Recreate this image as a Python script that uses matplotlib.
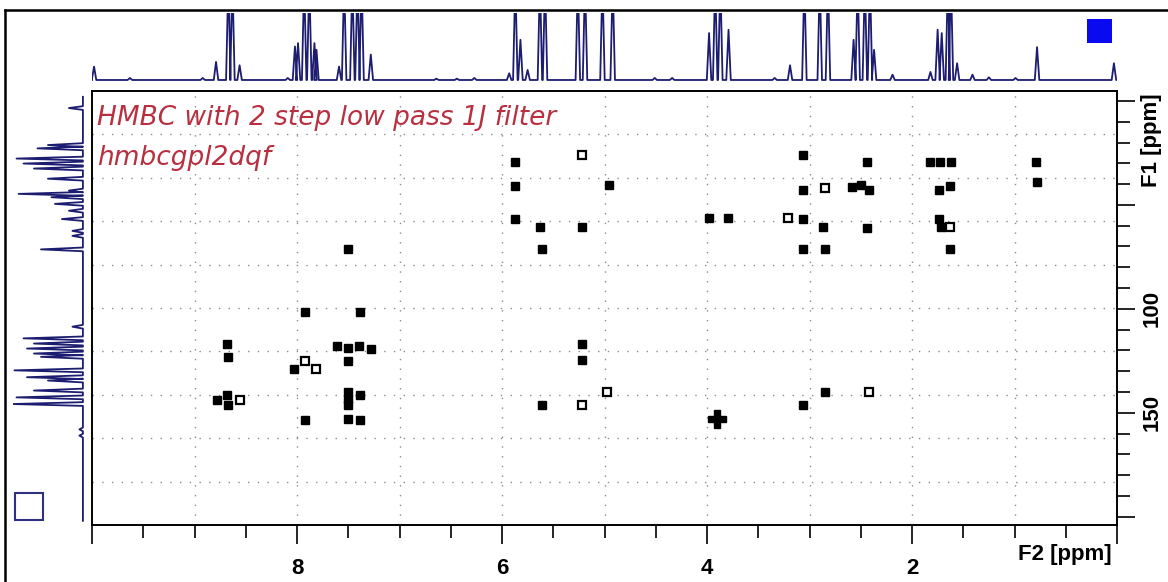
import numpy as np
import matplotlib.pyplot as plt
from matplotlib.patches import Rectangle
from matplotlib.lines import Line2D

# ---- cross peaks: (F2 1H ppm, F1 13C ppm) ----
filled_f2 = [7.50, 5.87, 5.87, 4.96, 5.87, 5.63, 5.22, 5.61, 3.98, 3.80,
             3.06, 2.44, 1.82, 1.73, 1.62, 0.79, 0.78, 3.06, 2.59, 2.50,
             2.42, 1.63, 1.74, 3.06, 2.87, 2.44, 1.74, 1.72, 3.06, 2.85,
             1.63, 7.92, 7.39, 8.68, 8.67, 7.61, 7.50, 7.40, 7.28, 7.50,
             8.03, 8.78, 8.68, 8.67, 7.50, 7.50, 7.50, 7.39, 7.92, 7.50,
             7.39, 5.22, 5.22, 5.61, 2.85, 3.06]
filled_f1 = [71.0, 29.3, 40.9, 40.6, 56.8, 60.8, 60.8, 71.0, 56.5, 56.5,
             26.1, 29.3, 29.3, 29.3, 29.3, 29.3, 39.0, 43.0, 41.4, 40.6,
             43.0, 41.1, 43.0, 56.8, 60.8, 61.3, 56.8, 60.8, 71.0, 71.0,
             71.0, 101.3, 101.3, 117.1, 123.4, 117.8, 118.8, 117.8, 119.4, 125.1,
             128.8, 143.7, 141.3, 146.1, 140.1, 143.3, 146.5, 141.3, 153.6, 153.1,
             153.6, 116.7, 124.8, 146.3, 139.8, 146.3]
open_f2 = [5.22, 2.85, 3.21, 1.63, 7.92, 7.81, 8.56, 4.98, 5.22, 2.42]
open_f1 = [26.1, 41.9, 56.5, 60.8, 125.1, 128.8, 143.7, 139.8, 146.3, 139.8]
strong_f2 = [3.90]
strong_f1 = [153.1]

# ---- 1H projection (top): peak position, relative height ----
h_ppm = [9.98, 9.63, 8.92, 8.79, 8.67, 8.63, 8.56, 8.09, 8.02, 7.99,
         7.93, 7.88, 7.83, 7.81, 7.59, 7.54, 7.46, 7.41, 7.37, 7.28,
         6.64, 6.44, 6.27, 5.93, 5.87, 5.82, 5.75, 5.63, 5.58, 5.26,
         5.19, 5.02, 4.92, 4.51, 4.34, 3.98, 3.92, 3.87, 3.79, 3.34,
         3.19, 3.05, 2.90, 2.82, 2.57, 2.53, 2.46, 2.41, 2.37, 2.19,
         1.82, 1.75, 1.71, 1.65, 1.62, 1.56, 1.41, 1.25, 0.99, 0.78,
         0.03]
h_int = [0.20, 0.03, 0.03, 0.27, 1.5, 1.5, 0.22, 0.03, 0.50, 0.55,
         1.5, 1.5, 0.55, 0.45, 0.20, 1.5, 1.5, 1.5, 1.5, 0.38,
         0.02, 0.02, 0.03, 0.10, 1.5, 0.60, 0.15, 1.5, 1.5, 1.5,
         1.5, 1.5, 1.5, 0.03, 0.03, 0.70, 1.5, 1.5, 0.75, 0.03,
         0.22, 1.5, 1.5, 1.5, 0.60, 1.5, 1.5, 1.5, 0.45, 0.08,
         0.12, 0.75, 0.70, 1.5, 1.5, 0.25, 0.08, 0.04, 0.03, 0.49,
         0.25]

# ---- 13C projection (left): peak position, relative height ----
c_ppm = [3.4, 21.2, 22.8, 27.7, 30.1, 32.5, 37.4, 43.1, 44.7, 46.3,
         49.5, 52.8, 56.8, 62.5, 64.9, 71.4, 108.6, 114.2, 116.7, 119.1,
         121.5, 123.1, 129.6, 132.9, 134.5, 139.3, 142.6, 145.8, 158.0, 161.0]
c_int = [0.20, 0.50, 0.65, 0.95, 0.85, 0.70, 0.50, 0.20, 0.92, 0.45,
         0.40, 0.20, 0.30, 0.15, 0.15, 0.60, 0.15, 0.85, 0.70, 0.80,
         0.70, 0.60, 0.98, 0.80, 0.50, 0.70, 0.95, 1.00, 0.05, 0.05]

f2_range = (10.0, 0.0)
f1_range = (204.0, -4.8)
f2_ticks = [10, 8, 6, 4, 2, 0]
f2_labels = ["", "8", "6", "4", "2", ""]
f1_ticks = [0, 50, 100, 150, 200]
f1_labels = ["", "", "100", "150", ""]


def trace(pos, inten, hw, lo, hi):
    # baseline from lo to hi with a spike at every peak
    xs, ys = [lo], [0]
    for p, h in sorted(zip(pos, inten)):
        xs += [p - hw, p, p + hw]
        ys += [0, h, 0]
    xs.append(hi)
    ys.append(0)
    return np.array(xs), np.array(ys)


W, H = 1168, 582
fig = plt.figure(figsize=(W / 100, H / 100), dpi=100)
fig.patch.set_facecolor("white")

spec_col = "#1c1c70"
tick_font = dict(family="Liberation Sans", weight="bold", size=16)

# main 2D axes
ax = fig.add_axes([92 / W, 1 - 525 / H, 1025 / W, 434 / H])
ax.set_xlim(*f2_range)
ax.set_ylim(*f1_range)

for k in range(1, 10):
    fx = f2_range[0] + k / 10 * (f2_range[1] - f2_range[0])
    fy = f1_range[1] + k / 10 * (f1_range[0] - f1_range[1])
    ax.axvline(fx, color="#8c8c8c", lw=1.0, ls=(0, (1, 6)), zorder=0)
    ax.axhline(fy, color="#8c8c8c", lw=1.0, ls=(0, (1, 6)), zorder=0)

ax.plot(filled_f2, filled_f1, ls="none", marker="s", ms=5.5, color="black")
ax.plot(open_f2, open_f1, ls="none", marker="s", ms=5.5, mfc="white",
        mec="black", mew=1.6)
ax.plot(strong_f2, strong_f1, ls="none", marker="P", ms=13, color="black")

ax.set_xticks(f2_ticks)
ax.set_xticklabels(f2_labels, fontdict=tick_font)
ax.set_xticks(np.arange(0, 10.01, 0.5), minor=True)
ax.tick_params(axis="x", which="major", direction="out", length=14, width=1.2, pad=10)
ax.tick_params(axis="x", which="minor", direction="out", length=9, width=1.2)

ax.yaxis.tick_right()
ax.set_yticks(f1_ticks)
ax.set_yticklabels(f1_labels, fontdict=tick_font, rotation=90, va="center")
ax.set_yticks(np.arange(0, 201, 10), minor=True)
ax.tick_params(axis="y", which="major", direction="out", length=13, width=1.2, pad=5)
ax.tick_params(axis="y", which="minor", direction="out", length=9, width=1.2)
for s in ax.spines.values():
    s.set_linewidth(1.4)

ax.text(0.05, 213, "F2 [ppm]", ha="right", va="top", fontdict=tick_font)
ax.text(1 + 24 / 1025, 1 - 2 / 434, "F1 [ppm]", ha="left", va="top",
        rotation=90, fontdict=tick_font, transform=ax.transAxes)

title_col = "#b83040"
ax.text(9.95, 11.5, "HMBC with 2 step low pass 1J filter", color=title_col,
        fontsize=19, style="italic", family="DejaVu Sans", weight="light",
        va="baseline")
ax.text(9.95, 30.8, "hmbcgpl2dqf", color=title_col,
        fontsize=19, style="italic", family="DejaVu Sans", weight="light",
        va="baseline")

# top 1H projection
axt = fig.add_axes([92 / W, 1 - 82 / H, 1025 / W, 69 / H])
x1, y1 = trace(h_ppm, h_int, 0.022, 0.0, 10.0)
axt.plot(x1, y1, color=spec_col, lw=1.3)
axt.set_xlim(*f2_range)
axt.set_ylim(-0.03, 1.0)
axt.axis("off")

# left 13C projection
axl = fig.add_axes([13 / W, 1 - 525 / H, 72 / W, 434 / H])
y2, x2 = trace(c_ppm, c_int, 0.9, -2.0, 202.0)
axl.plot(x2, y2, color=spec_col, lw=1.3)
axl.set_ylim(*f1_range)
axl.set_xlim(1.0, -0.03)
axl.axis("off")

# outer frame and the two little squares
fig.add_artist(Line2D([5 / W, 5 / W], [0, 1 - 10 / H], color="black", lw=1.8))
fig.add_artist(Line2D([5 / W, 1], [1 - 10 / H, 1 - 10 / H], color="black", lw=1.8))
fig.add_artist(Rectangle((1087 / W, 1 - 43 / H), 25 / W, 24 / H,
                         facecolor="#0a0af0", edgecolor="none"))
fig.add_artist(Rectangle((15 / W, 1 - 520 / H), 28 / W, 27 / H,
                         fill=False, edgecolor="#303080", lw=1.5))

fig.savefig("out.png", dpi=100)
